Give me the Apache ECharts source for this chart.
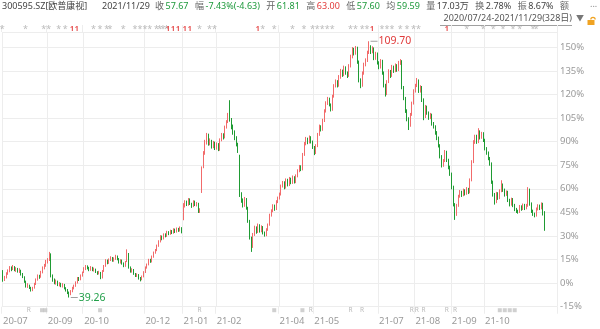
<!DOCTYPE html>
<html><head><meta charset="utf-8">
<script src="https://cdn.jsdelivr.net/npm/echarts@6/dist/echarts.min.js"></script>
<style>html,body{margin:0;padding:0;background:#fff}#c{width:600px;height:329px}</style>
</head><body><div id="c"></div>
<script>
// ---------------- data ----------------
const stockName = '300595.SZ[欧普康视]';
const lastDate = '2021/11/29';
const rangeText = '2020/07/24-2021/11/29(328日)';
const basePrice = 43.22; // price at 0%
const monthLabels = ['20-07','20-08','20-09','20-10','20-11','20-12','21-01','21-02','21-03','21-04','21-05','21-06','21-07','21-08','21-09','21-10','21-11'];
const monthTradingDays = [6,21,22,16,21,23,20,15,23,21,18,21,22,22,20,16,21];
const shownMonthLabels = ['20-07','20-09','20-10','20-12','21-01','21-02','21-04','21-05','21-07','21-08','21-09','21-10'];
const pctMin = -15, pctMaxLabel = 150, pctStep = 15;
const headerFields = [
  ['收','57.67','down'],['幅','-7.43%(-4.63)','down'],['开','61.81','down'],['高','63.00','up'],
  ['低','57.60','down'],['均','59.59','down'],['量','17.03万','flat'],['换','2.78%','flat'],
  ['振','8.67%','flat'],['额','','flat']
];
const highMark = {day: 221, price: 109.70, text: '109.70'};
const lowMark = {day: 40, price: 39.26, text: '39.26'};
const starEventDays = [0,14,25,28,34,38,55,59,63,65,73,80,83,86,89,93,95,97,99,119,125,128,157,164,175,182,187,190,193,196,199,210,213,217,220,229,232,235,240,244,248,251,280,290,296,302,308,312,320,322];
const flagEventDays = [42,45,100,103,106,110,113,154,223,268];
const rightsDays = [16,119,186,210,217,247,250,254,268,273];
const blockDays = [24,26,59,164,181,300,303,306,309];
// daily [open, high, low, close]
const dailyOHLC = [
[46.3,46.8,43.6,44.0],[44.0,45.2,43.8,44.8],[44.9,46.2,44.5,45.9],[45.8,47.0,45.5,46.7],[46.6,47.9,46.2,47.3],
[47.4,47.8,46.5,47.0],[47.0,48.2,46.8,47.6],[47.5,47.9,46.5,46.9],[46.8,47.6,46.3,47.2],[47.1,47.4,46.1,46.5],
[46.4,47.3,46.0,46.8],[46.7,46.9,45.3,45.6],[45.6,46.0,44.6,44.9],[44.8,45.1,43.3,43.6],[43.5,43.9,42.0,42.3],
[42.3,43.2,41.9,42.6],[42.5,42.8,41.6,41.9],[41.8,42.2,40.9,41.2],[41.2,42.2,41.0,41.8],[41.9,43.3,41.7,42.9],
[42.9,44.5,42.7,44.1],[44.2,45.6,43.9,45.2],[45.1,45.5,44.4,44.8],[44.9,46.6,44.7,46.3],[46.2,47.8,45.9,47.4],
[47.3,48.5,47.0,48.1],[48.0,49.6,47.7,49.2],[49.1,50.1,48.6,49.6],[49.7,51.8,49.3,51.2],[51.0,51.4,44.8,45.2],
[45.0,45.6,43.6,44.0],[44.0,44.5,42.9,43.2],[43.1,44.2,42.8,43.8],[43.7,43.9,42.4,42.7],[42.6,43.5,42.3,43.1],
[43.0,43.3,42.1,42.4],[42.3,43.2,42.0,42.9],[42.8,43.0,41.5,41.8],[41.8,42.1,40.9,41.2],[41.2,41.6,40.2,40.6],
[40.5,40.9,39.26,40.1],[40.1,41.3,39.9,41.0],[41.0,42.2,40.7,41.9],[41.8,42.8,41.5,42.5],[42.4,43.7,42.2,43.4],
[43.3,44.9,43.1,44.6],[44.6,44.9,43.8,44.2],[44.2,45.6,44.0,45.3],[45.2,46.4,45.0,46.1],[46.3,47.6,46.0,47.2],
[47.1,48.2,46.8,47.8],[47.8,48.1,47.0,47.4],[47.4,47.7,46.5,46.9],[46.8,47.9,46.6,47.5],[47.5,47.7,46.5,46.8],
[46.8,47.5,46.4,47.1],[47.0,47.2,46.0,46.3],[46.2,46.5,45.5,45.8],[45.8,46.6,45.6,46.2],[46.1,46.3,44.3,44.6],
[44.7,46.8,44.5,46.5],[46.5,48.2,46.3,47.9],[47.9,49.8,47.7,49.4],[49.4,49.7,48.4,48.7],[48.7,50.0,48.5,49.6],
[49.6,50.6,49.3,50.2],[50.1,50.4,49.1,49.4],[49.4,50.3,49.1,49.9],[49.9,51.0,49.6,50.6],[50.5,50.8,49.5,49.8],
[49.8,50.1,48.6,48.9],[48.9,49.8,48.6,49.5],[49.4,49.7,48.3,48.6],[48.6,48.9,47.6,47.9],[47.9,49.3,47.7,49.0],
[49.2,52.5,49.0,51.8],[51.2,51.5,47.2,47.5],[47.5,47.8,46.1,46.4],[46.4,47.3,46.1,46.9],[46.8,47.1,45.5,45.8],
[45.8,46.0,44.9,45.2],[45.2,45.9,44.9,45.6],[45.5,45.7,44.2,44.5],[44.5,44.9,43.7,44.1],[44.2,45.3,44.0,45.0],
[45.0,46.5,44.8,46.2],[46.2,47.8,46.0,47.5],[47.5,48.6,47.2,48.3],[48.3,49.9,48.1,49.6],[49.6,49.9,48.8,49.1],
[49.1,50.8,48.9,50.5],[50.5,51.9,50.2,51.6],[51.6,52.6,51.3,52.2],[52.2,53.8,52.0,53.4],[53.4,55.0,53.2,54.6],
[54.6,56.4,54.4,56.0],[56.0,56.3,55.0,55.4],[55.4,56.9,55.2,56.6],[56.6,56.9,55.8,56.1],[56.1,57.6,55.9,57.2],
[57.2,57.5,56.4,56.7],[56.7,57.9,56.5,57.5],[57.5,57.8,56.7,57.0],[57.0,58.3,56.8,57.9],[57.9,58.2,57.0,57.3],
[57.3,58.5,57.1,58.1],[58.1,58.4,57.3,57.6],[57.6,58.8,57.4,58.3],[58.3,58.6,56.9,57.2],[60.8,65.2,60.5,64.5],
[64.5,66.0,64.0,65.5],[65.5,65.9,64.4,64.8],[64.8,66.6,64.5,66.2],[66.2,66.5,64.7,65.0],[65.0,65.3,63.9,64.3],
[64.3,66.0,64.1,65.6],[65.6,65.9,64.4,64.7],[64.7,65.5,64.3,65.1],[65.1,65.3,62.5,62.8],[62.8,63.8,62.5,63.4],
[68.5,75.3,68.0,75.0],[75.2,79.5,74.8,78.9],[78.9,82.6,78.5,82.0],[82.0,84.5,81.3,84.0],[84.0,84.3,81.0,81.5],
[81.5,83.0,81.1,82.3],[82.3,82.6,80.2,80.6],[80.6,82.3,80.3,81.8],[81.8,82.1,79.8,80.2],[80.2,81.9,79.9,81.4],
[81.4,81.7,79.5,79.9],[79.9,83.0,79.6,82.5],[82.5,84.5,82.2,84.0],[84.0,84.4,82.7,83.2],[83.2,86.5,83.0,86.0],
[86.0,88.0,85.7,87.5],[87.5,90.0,87.2,89.5],[91.5,93.5,87.6,88.0],[88.0,88.6,85.5,86.0],[86.0,86.8,84.0,84.5],
[84.5,85.2,82.5,83.0],[83.0,83.6,80.8,81.2],[81.2,81.8,79.0,79.5],[78.0,78.5,66.9,67.5],[67.5,68.2,65.3,65.8],
[65.8,66.5,64.0,64.5],[64.5,66.9,64.2,66.2],[66.2,66.6,63.4,63.8],[63.8,64.2,59.8,60.2],[60.2,60.6,55.2,55.6],
[55.6,56.0,51.8,53.2],[53.2,57.0,52.9,56.5],[56.5,59.0,56.2,58.4],[58.4,58.8,56.8,57.2],[57.2,59.6,57.0,59.1],
[59.1,59.4,57.1,57.5],[57.5,59.1,57.2,58.6],[58.6,58.9,56.6,57.0],[57.0,57.4,56.0,56.4],[56.4,58.3,56.1,57.9],
[57.9,59.6,57.6,59.2],[59.2,62.3,59.0,61.8],[61.8,63.5,61.5,63.0],[63.0,64.9,62.7,64.4],[64.4,64.8,63.1,63.6],
[63.6,66.0,63.3,65.5],[65.5,67.0,65.2,66.5],[66.5,68.1,66.2,67.6],[67.6,70.3,67.3,69.8],[69.8,71.3,69.5,70.8],
[70.8,71.2,69.0,69.5],[69.5,72.0,69.2,71.5],[71.5,71.9,69.8,70.2],[70.2,72.4,69.9,71.9],[71.9,72.2,70.4,70.8],
[70.8,72.8,70.5,72.3],[72.3,72.6,70.6,71.0],[71.0,73.1,70.7,72.6],[72.6,74.5,72.3,74.0],[74.0,75.7,73.7,75.2],
[75.2,75.6,74.0,74.5],[74.5,79.0,74.2,78.5],[78.5,82.0,78.2,81.5],[81.5,83.4,81.1,82.8],[82.8,83.2,81.4,81.9],
[81.9,83.8,81.6,83.2],[83.2,83.6,81.6,82.0],[82.0,82.4,80.1,80.5],[80.5,80.9,78.4,79.0],[79.0,81.4,78.7,80.9],
[80.9,84.5,80.6,84.0],[84.0,86.8,83.7,86.2],[86.2,86.6,84.9,85.4],[85.4,88.4,85.1,87.8],[87.8,91.0,87.5,90.5],
[90.5,93.2,90.1,92.6],[92.6,94.4,92.2,93.8],[93.8,94.2,91.8,92.2],[92.2,92.6,90.4,90.9],[90.9,95.0,90.6,94.5],
[94.5,97.9,94.2,97.3],[97.3,99.2,97.0,98.6],[98.6,99.0,97.0,97.5],[97.5,100.4,97.2,99.8],[99.8,102.1,99.4,101.5],
[101.5,101.9,99.9,100.4],[100.4,103.0,100.1,102.4],[102.4,102.8,100.5,101.0],[101.0,101.4,99.6,100.2],[100.2,103.4,99.9,102.8],
[102.8,106.0,102.5,105.4],[105.4,108.1,105.0,107.5],[107.5,107.9,105.8,106.4],[106.4,108.4,106.0,107.8],[107.8,108.2,103.5,104.0],
[104.0,104.4,98.4,99.0],[99.0,99.5,96.8,97.5],[97.5,101.4,97.2,100.8],[100.8,103.8,100.5,103.2],[103.2,105.0,102.8,104.4],
[104.4,107.1,104.0,106.5],[106.5,109.7,106.2,108.2],[108.2,108.6,106.2,106.8],[106.8,108.3,106.4,107.6],[107.6,108.0,104.5,105.0],
[105.0,106.8,104.6,106.2],[106.2,106.6,103.3,103.8],[103.8,104.2,102.0,102.5],[102.5,104.8,102.2,104.2],[104.2,104.6,100.5,101.0],
[101.0,101.4,97.0,97.5],[97.5,98.0,94.5,95.2],[95.2,99.0,94.9,98.5],[98.5,102.0,98.2,101.4],[101.4,101.8,99.6,100.2],
[100.2,103.2,99.9,102.6],[102.6,103.0,101.0,101.5],[101.5,103.6,101.2,103.0],[103.0,103.4,101.3,101.8],[101.8,104.3,101.5,103.7],
[103.7,104.8,103.2,104.2],[104.2,104.5,96.5,97.0],[97.0,97.4,93.5,94.0],[94.0,94.4,90.0,90.5],[90.5,91.0,87.7,88.2],
[88.2,88.8,85.3,86.5],[86.5,90.0,86.2,89.5],[89.5,93.1,89.2,92.6],[92.6,96.5,92.3,96.0],[96.0,98.0,95.6,97.5],
[97.5,99.6,97.1,98.8],[98.8,99.2,95.5,96.0],[96.0,97.6,95.6,97.0],[97.0,97.4,93.0,93.5],[93.5,94.0,88.0,89.0],
[89.0,92.2,88.6,91.6],[91.6,92.0,89.5,90.0],[90.0,90.4,88.1,88.6],[88.6,90.0,88.3,89.4],[89.4,89.8,86.5,87.0],
[87.0,87.5,85.7,86.2],[86.2,86.6,84.0,84.5],[84.5,85.0,82.5,83.0],[83.0,83.5,80.5,81.0],[81.0,81.4,77.5,78.0],
[78.0,78.4,75.0,75.5],[75.5,77.3,75.2,76.8],[76.8,79.8,76.5,79.2],[79.2,79.6,76.5,77.0],[77.0,77.4,74.5,75.0],
[75.0,75.5,72.7,73.2],[73.2,73.6,69.0,69.5],[69.5,70.0,64.3,64.8],[64.8,65.2,60.6,62.0],[62.0,65.0,61.7,64.5],
[64.5,67.5,64.2,67.0],[67.0,68.8,66.7,68.2],[68.2,68.6,66.9,67.4],[67.4,69.2,67.1,68.6],[68.6,69.0,67.3,67.8],
[67.8,69.6,67.5,69.0],[69.0,69.4,67.7,68.2],[68.2,72.0,67.9,71.5],[71.5,77.0,71.2,76.5],[76.5,82.5,76.2,82.0],
[82.0,84.0,81.5,83.5],[83.5,84.0,81.5,82.0],[82.0,85.8,81.7,84.8],[84.8,85.2,82.7,83.2],[83.2,84.8,82.9,84.3],
[84.3,84.7,82.0,82.5],[82.5,82.9,79.7,80.2],[80.2,80.6,78.5,79.0],[79.0,79.4,77.0,77.5],[77.5,77.9,75.5,76.0],
[76.0,76.4,70.5,71.0],[71.0,71.4,67.0,67.5],[67.5,68.0,64.8,65.5],[65.5,68.3,65.2,67.8],[67.8,68.2,66.1,66.6],
[66.6,69.0,66.3,68.5],[68.5,71.5,68.2,70.2],[70.2,70.6,68.3,68.8],[68.8,69.2,67.0,67.5],[67.5,68.7,67.2,68.2],
[68.2,68.6,65.5,66.0],[66.0,66.4,64.3,64.8],[64.8,66.7,64.5,66.2],[66.2,66.6,64.1,64.6],[64.6,65.0,63.0,63.5],
[63.5,63.9,62.5,63.0],[63.0,63.4,62.3,62.8],[62.8,64.7,62.5,64.2],[64.2,64.6,63.1,63.6],[63.6,65.1,63.3,64.6],
[64.6,65.0,63.3,63.8],[63.8,65.0,63.5,64.5],[64.5,69.6,64.2,68.8],[68.8,69.2,64.5,65.0],[65.0,65.4,62.5,63.0],
[63.0,63.4,61.7,62.2],[62.2,62.6,61.3,61.8],[61.8,64.0,61.5,63.5],[63.5,64.9,63.2,64.4],[64.4,64.8,63.3,63.8],
[63.8,65.4,63.5,64.9],[64.9,65.3,61.8,62.3],[61.81,63.00,57.60,57.67]
];

// ---------------- build ----------------
const UP = '#f26b6b', DOWN = '#1f9b33', GRID = '#ededed', AXIS_TXT = '#9a9a9a';
const toneColor = {up: '#e23b3b', down: '#1e9a3c', flat: '#444'};
const pct = p => (p / basePrice - 1) * 100;
const categories = [];
const shownStarts = new Set();
let acc = 0;
monthLabels.forEach((m, mi) => {
  if (shownMonthLabels.includes(m)) shownStarts.add(acc);
  for (let k = 0; k < monthTradingDays[mi]; k++) categories.push(m + '|' + k);
  acc += monthTradingDays[mi];
});
for (let k = 0; k < 7; k++) categories.push('|pad' + k);
const isStart = (idx) => shownStarts.has(idx);

const candleData = dailyOHLC.map(([o, h, l, c]) => [pct(o), pct(c), pct(l), pct(h)]);

const chart = echarts.init(document.getElementById('c'), null, {renderer: 'canvas', width: 600, height: 329});
const FONT = '"Noto Sans", "Noto Sans CJK SC", sans-serif';
const HFONT = '9px ' + FONT;

// measure header text widths for sequential layout
const mctx = document.createElement('canvas').getContext('2d');
mctx.font = HFONT;
const tw = s => mctx.measureText(s).width;

const gridLeft = 1.4, gridRight = 43;
function catAxis(gi, labels) {
  return {
    type: 'category', gridIndex: gi, data: categories, boundaryGap: true,
    axisLine: {show: false}, axisTick: {show: false},
    axisLabel: labels ? {
      show: true, interval: (i) => isStart(i), formatter: v => v.split('|')[0],
      align: 'left', color: AXIS_TXT, fontSize: 9.5, fontFamily: FONT, margin: 10
    } : {show: false},
    splitLine: {show: true, interval: (i) => isStart(i), lineStyle: {color: GRID, width: 1}}
  };
}

const headerGraphics = [];
headerGraphics.push({type: 'text', left: 2, top: 2, style: {text: stockName, fill: '#444', font: HFONT}});
headerGraphics.push({type: 'text', left: 102, top: 2, style: {text: lastDate, fill: '#444', font: HFONT}});
const headStart = 155, headEnd = 560, labelGap = 1.5;
let used = 0;
headerFields.slice(0, -1).forEach(([lab, val]) => { used += tw(lab) + labelGap + tw(val); });
const fieldGap = (headEnd - headStart - used) / (headerFields.length - 1);
let hx = headStart;
headerFields.forEach(([lab, val, tone]) => {
  headerGraphics.push({type: 'text', left: hx, top: 2, style: {text: lab, fill: '#666', font: HFONT}});
  const vx = hx + tw(lab) + labelGap;
  if (val) headerGraphics.push({type: 'text', left: vx, top: 2, style: {text: val, fill: toneColor[tone], font: HFONT}});
  hx = vx + tw(val) + fieldGap;
});
headerGraphics.push({type: 'text', left: 590, top: 0, style: {text: '...', fill: '#888', font: HFONT}});
headerGraphics.push({type: 'text', right: 28, top: 14, style: {text: rangeText, fill: '#555', font: HFONT}});
headerGraphics.push({type: 'line', shape: {x1: 440, y1: 25.5, x2: 572, y2: 25.5}, style: {stroke: '#888', lineWidth: 0.8}});
headerGraphics.push({type: 'text', left: 576, top: 15, style: {text: '▼', fill: '#777', font: '8px ' + FONT}});
headerGraphics.push({type: 'rect', shape: {x: 587.5, y: 20, width: 7, height: 5}, style: {fill: '#f0a322'}});
headerGraphics.push({type: 'arc', shape: {cx: 593, cy: 19.5, r: 2.2, startAngle: Math.PI, endAngle: 2 * Math.PI}, style: {stroke: '#f0a322', lineWidth: 1.2, fill: null}});

const option = {
  animation: false,
  backgroundColor: '#fff',
  textStyle: {fontFamily: FONT},
  grid: [
    {left: gridLeft, right: gridRight, top: 32, bottom: 22.3},
    {left: gridLeft, right: gridRight, top: 25, height: 7},
    {left: gridLeft, right: gridRight, top: 306.7, height: 7}
  ],
  xAxis: [catAxis(0, true), catAxis(1, false), catAxis(2, false)],
  yAxis: [
    {type: 'value', gridIndex: 0, position: 'right', min: pctMin, max: 159.7, interval: pctStep,
     axisLine: {show: false}, axisTick: {show: false},
     axisLabel: {color: AXIS_TXT, fontSize: 9.5, fontFamily: FONT, margin: 3, showMaxLabel: false,
       formatter: v => (Math.abs(v % pctStep) < 1e-6 && v <= pctMaxLabel + 1e-6) ? Math.round(v) + '%' : ''},
     splitLine: {show: true, lineStyle: {color: GRID, width: 1}}},
    {type: 'value', gridIndex: 1, min: 0, max: 1, show: false},
    {type: 'value', gridIndex: 2, min: 0, max: 1, show: false}
  ],
  series: [
    {type: 'candlestick', xAxisIndex: 0, yAxisIndex: 0, data: candleData,
     itemStyle: {color: UP, color0: DOWN, borderColor: UP, borderColor0: DOWN, borderWidth: 1},
     markPoint: {
       silent: true, symbol: 'rect', symbolSize: [7, 1], symbolOffset: [5, 0],
       itemStyle: {color: '#a0a0a0'},
       label: {show: true, position: 'right', distance: 1, fontSize: 10.5, fontFamily: FONT, formatter: p => p.name},
       data: [
         {name: highMark.text, coord: [categories[highMark.day], pct(highMark.price)], label: {color: '#e03a3a'}},
         {name: lowMark.text, coord: [categories[lowMark.day], pct(lowMark.price)], label: {color: '#22a04a'}}
       ]
     }},
    {type: 'scatter', xAxisIndex: 1, yAxisIndex: 1, symbolSize: 0, silent: true,
     data: starEventDays.map(d => [d, 0.4]),
     label: {show: true, position: 'inside', formatter: '*', color: '#aaa', fontSize: 9, fontFamily: FONT}},
    {type: 'scatter', xAxisIndex: 1, yAxisIndex: 1, symbolSize: 0, silent: true,
     data: flagEventDays.map(d => [d, 0.5]),
     label: {show: true, position: 'inside', formatter: '1', color: '#e02020', fontSize: 7, fontWeight: 'bold', fontFamily: FONT}},
    {type: 'scatter', xAxisIndex: 2, yAxisIndex: 2, symbolSize: 0, silent: true,
     data: rightsDays.map(d => [d, 0.5]),
     label: {show: true, position: 'inside', formatter: 'R', color: '#aaa', fontSize: 6.5, fontFamily: FONT}},
    {type: 'scatter', xAxisIndex: 2, yAxisIndex: 2, symbol: 'rect', symbolSize: [4, 4], silent: true,
     itemStyle: {color: '#c4c4c4'},
     data: blockDays.map(d => [d, 0.5])}
  ],
  graphic: headerGraphics
};
chart.setOption(option);
</script></body></html>
